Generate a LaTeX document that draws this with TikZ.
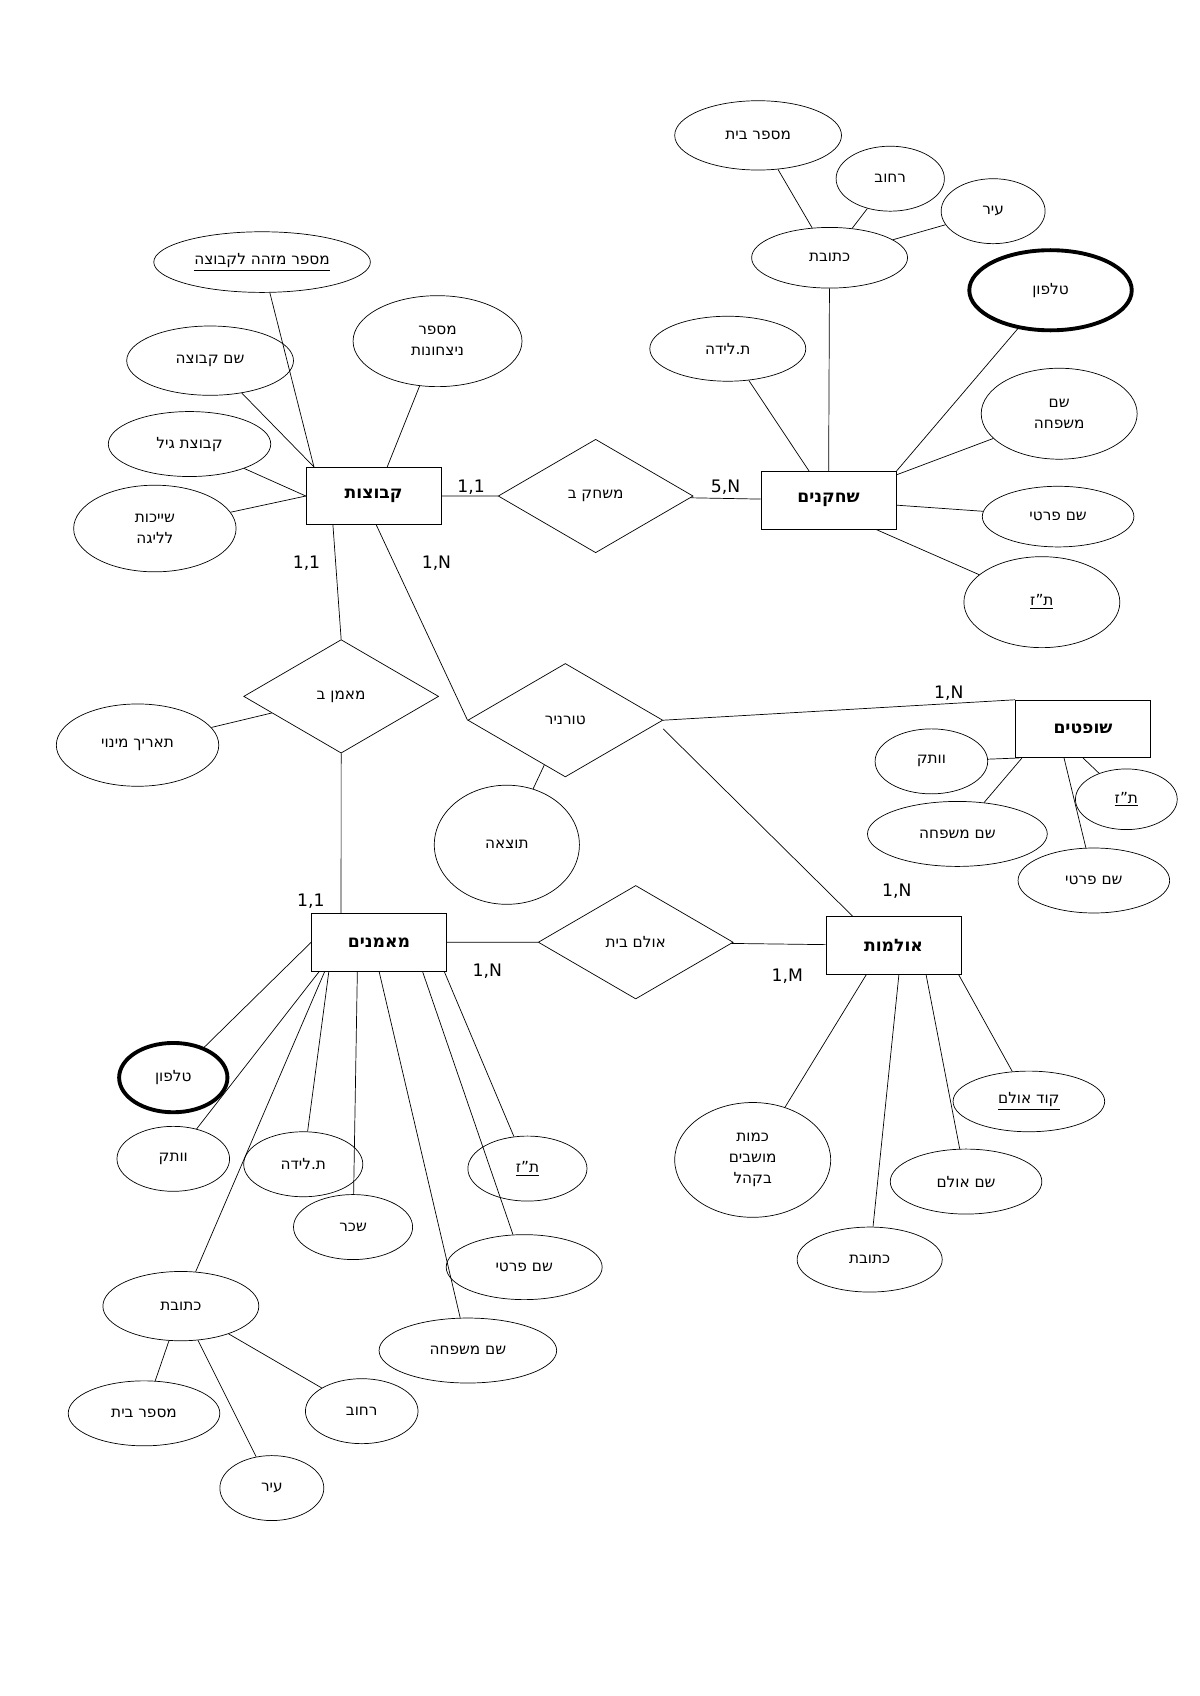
\documentclass[tikz,border=0pt]{standalone}
\usepackage{fontspec}
\setmainfont{DejaVu Sans}
\usetikzlibrary{shapes.geometric,calc}
\TeXXeTstate=1
\newcommand\rl[1]{\beginR#1\endR}
\begin{document}
\begin{tikzpicture}[x=0.02166cm,y=-0.02166cm,
  every node/.style={font=\fontsize{8.7}{12}\selectfont},
  ent/.style={draw,rectangle,minimum width=2.7cm,minimum height=1.15cm,font=\fontsize{9.8}{12}\selectfont\bfseries},
  rel/.style={draw,diamond,inner sep=0,minimum width=3.9cm,minimum height=2.27cm},
  a/.style 2 args={draw,ellipse,inner sep=0,align=center,minimum width={#1*0.02166cm},minimum height={#2*0.02166cm}},
  lbl/.style={font=\fontsize{9.8}{12}\selectfont}]
\useasboundingbox (0,0) rectangle (1108,1566);
% entities
\node[ent] (kv) at (345,458) {\rl{קבוצות}};
\node[ent] (sh) at (765,462) {\rl{שחקנים}};
\node[ent] (sf) at (1000,673) {\rl{שופטים}};
\node[ent] (mm) at (350,870) {\rl{מאמנים}};
\node[ent] (ol) at (825,873) {\rl{אולמות}};
% relationships
\node[rel] (ms) at (550,458) {\rl{משחק ב}};
\node[rel] (mb) at (315,643) {\rl{מאמן ב}};
\node[rel] (tr) at (522,665) {\rl{טורניר}};
\node[rel] (ob) at (587,870) {\rl{אולם בית}};
% player attributes
\node[a={154}{64}] (p1) at (700,125) {\rl{מספר בית}};
\node[a={100}{60}] (p2) at (822,165) {\rl{רחוב}};
\node[a={96}{60}] (p3) at (917,195) {\rl{עיר}};
\node[a={144}{56}] (p4) at (766,238) {\rl{כתובת}};
\node[a={150}{74},line width=2.2pt] (p5) at (970,268) {\rl{טלפון}};
\node[a={144}{60}] (p6) at (672,322) {\rl{ת.לידה}};
\node[a={144}{84}] (p7) at (978,382) {\rl{שם}\\\rl{משפחה}};
\node[a={140}{56}] (p8) at (977,477) {\rl{שם פרטי}};
\node[a={144}{84}] (p9) at (962,556) {\underline{ת"ז}};
% team attributes
\node[a={200}{56}] (k1) at (242,242) {\underline{לקבוצה מזהה מספר}};
\node[a={156}{84}] (k2) at (404,315) {\rl{מספר}\\\rl{ניצחונות}};
\node[a={154}{64}] (k3) at (194,333) {\rl{שם קבוצה}};
\node[a={150}{60}] (k4) at (175,410) {\rl{קבוצת גיל}};
\node[a={150}{80}] (k5) at (143,488) {\rl{שייכות}\\\rl{לליגה}};
% relationship attributes
\node[a={150}{76}] (t1) at (127,688) {\rl{תאריך מינוי}};
\node[a={134}{110}] (t2) at (468,780) {\rl{תוצאה}};
% judges
\node[a={104}{60}] (j1) at (860,703) {\rl{וותק}};
\node[a={94}{56}] (j2) at (1040,738) {\underline{ת"ז}};
\node[a={166}{60}] (j3) at (884,770) {\rl{שם משפחה}};
\node[a={140}{60}] (j4) at (1010,813) {\rl{שם פרטי}};
% halls
\node[a={140}{56}] (h1) at (950,1017) {\underline{אולם קוד}};
\node[a={144}{106}] (h2) at (695,1071) {\rl{כמות}\\\rl{מושבים}\\\rl{בקהל}};
\node[a={140}{60}] (h3) at (892,1091) {\rl{שם אולם}};
\node[a={134}{60}] (h4) at (803,1163) {\rl{כתובת}};
% coaches
\node[a={100}{64},line width=2.2pt] (c1) at (160,995) {\rl{טלפון}};
\node[a={104}{60}] (c2) at (160,1070) {\rl{וותק}};
\node[a={110}{60}] (c3) at (280,1075) {\rl{ת.לידה}};
\node[a={110}{60}] (c4) at (487,1079) {\underline{ת"ז}};
\node[a={110}{60}] (c5) at (326,1133) {\rl{שכר}};
\node[a={144}{60}] (c6) at (484,1170) {\rl{שם פרטי}};
\node[a={144}{64}] (c7) at (167,1206) {\rl{כתובת}};
\node[a={164}{60}] (c8) at (432,1247) {\rl{שם משפחה}};
\node[a={140}{60}] (c9) at (133,1305) {\rl{מספר בית}};
\node[a={104}{60}] (c10) at (334,1303) {\rl{רחוב}};
\node[a={96}{60}] (c11) at (251,1374) {\rl{עיר}};
% relationship lines
\draw (kv) -- (ms) -- (sh);
\draw ($(kv.south west)!0.2!(kv.south east)$) -- (mb.north);
\draw (mb.south) -- ($(mm.north west)!0.22!(mm.north east)$);
\draw ($(kv.south west)!0.52!(kv.south east)$) -- (tr.west);
\draw (tr.east) -- ($(sf.north west)!0!(sf.south west)$);
\draw ($(tr.east)+(0,8)$) -- ($(ol.north west)!0.2!(ol.north east)$);
\draw (mm) -- (ob) -- (ol);
\draw (t1) -- (mb); \draw (t2) -- (tr);
% player attr lines
\draw (p1) -- (p4); \draw (p2) -- (p4); \draw (p3) -- (p4);
\draw (p4) -- (sh);
\draw (p5) -- (sh.north east); \draw (p6) -- (sh); \draw (p7) -- (sh); \draw (p8) -- (sh); \draw (p9) -- ($(sh.south west)!0.85!(sh.south east)$);
% team attr lines
\draw (k1) -- ($(kv.north west)!0.06!(kv.north east)$);
\draw (k2) -- ($(kv.north west)!0.6!(kv.north east)$);
\draw (k3) -- ($(kv.north west)!0.06!(kv.north east)$);
\draw (k4) -- (kv.west); \draw (k5) -- (kv.west);
% judges
\draw (j1) -- ($(sf.south west)!0.03!(sf.south east)$);
\draw (j2) -- ($(sf.south west)!0.5!(sf.south east)$);
\draw (j3) -- ($(sf.south west)!0.05!(sf.south east)$);
\draw (j4) -- ($(sf.south west)!0.36!(sf.south east)$);
% halls
\draw (h1) -- ($(ol.south west)!0.98!(ol.south east)$);
\draw (h2) -- ($(ol.south west)!0.3!(ol.south east)$);
\draw (h3) -- ($(ol.south west)!0.74!(ol.south east)$);
\draw (h4) -- ($(ol.south west)!0.54!(ol.south east)$);
% coaches
\draw (c1) -- (mm.west);
\draw (c2) -- ($(mm.south west)!0.06!(mm.south east)$);
\draw (c3) -- ($(mm.south west)!0.13!(mm.south east)$);
\draw (c7) -- ($(mm.south west)!0.1!(mm.south east)$);
\draw (c5) -- ($(mm.south west)!0.34!(mm.south east)$);
\draw (c8) -- ($(mm.south west)!0.5!(mm.south east)$);
\draw (c6) -- ($(mm.south west)!0.82!(mm.south east)$);
\draw (c4) -- ($(mm.south west)!0.98!(mm.south east)$);
\draw (c9) -- (c7); \draw (c10) -- (c7); \draw (c11) -- (c7);
% cardinalities
\node[lbl] (l1) at (435,450) {1,1};
\node[lbl] (l2) at (670,450) {5,N};
\node[lbl] (l3) at (283,520) {1,1};
\node[lbl] (l4) at (403,520) {1,N};
\node[lbl] (l5) at (876,640) {1,N};
\node[lbl] (l6) at (828,823) {1,N};
\node[lbl] (l7) at (287,832) {1,1};
\node[lbl] (l8) at (450,897) {1,N};
\node[lbl] (l9) at (727,901) {1,M};
\end{tikzpicture}
\end{document}
